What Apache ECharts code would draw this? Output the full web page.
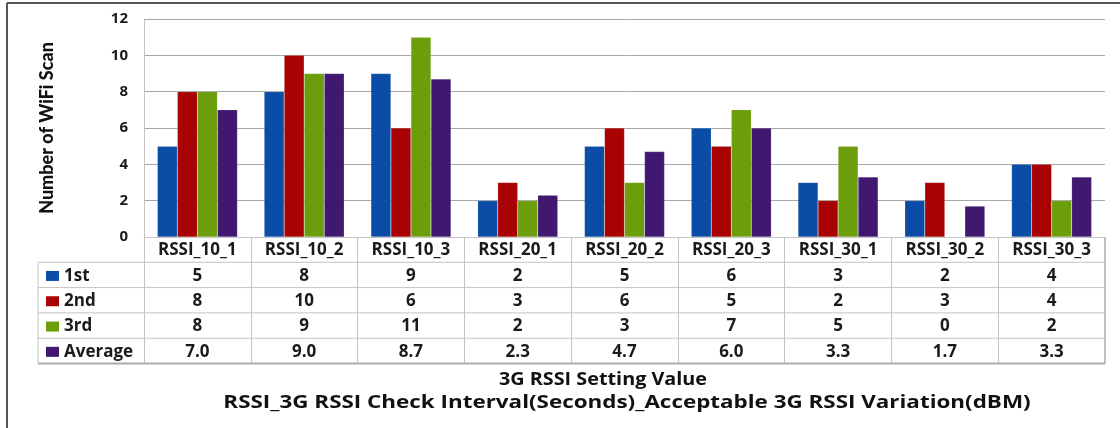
<!DOCTYPE html>
<html><head><meta charset="utf-8">
<script src="https://cdn.jsdelivr.net/npm/echarts@6/dist/echarts.min.js"></script>
<style>html,body{margin:0;padding:0;background:#fff}#c{width:1120px;height:428px}</style>
</head><body><div id="c"></div>
<script>
const categories = ['RSSI_10_1','RSSI_10_2','RSSI_10_3','RSSI_20_1','RSSI_20_2','RSSI_20_3','RSSI_30_1','RSSI_30_2','RSSI_30_3'];
const seriesNames = ['1st','2nd','3rd','Average'];
const first = [5,8,9,2,5,6,3,2,4];
const second = [8,10,6,3,6,5,2,3,4];
const third = [8,9,11,2,3,7,5,0,2];
const average = [7.0,9.0,8.7,2.3,4.7,6.0,3.3,1.7,3.3];
const yTicks = [0,2,4,6,8,10,12];
const yTitle = 'Number of WiFi Scan';
const xTitle1 = '3G RSSI Setting Value';
const xTitle2 = 'RSSI_3G RSSI Check Interval(Seconds)_Acceptable 3G RSSI Variation(dBM)';

const colors = ['#0B4DA6','#A80202','#6C9E0B','#40186F'];
const allData = [first, second, third, average];
const fmt = [v=>String(v), v=>String(v), v=>String(v), v=>v.toFixed(1)];
const FONT = 'Open Sans';
const gridL = 144, gridR = 1105, gridT = 19, gridB = 237;
const rowH = 25.3;
const lineC = '#c4c4c4';

const xAxes = [{
  type:'category', data:categories, gridIndex:0, position:'bottom',
  axisLine:{lineStyle:{color:lineC}},
  axisTick:{show:true, length:126, lineStyle:{color:lineC}},
  axisLabel:{fontFamily:FONT, fontWeight:'bold', fontSize:17, color:'#1a1a1a', margin:5}
}];
allData.forEach((arr,k)=>{
  xAxes.push({
    type:'category', data:arr.map(fmt[k]), gridIndex:0, position:'bottom', offset:rowH*(k+1),
    axisLine:{show:false}, axisTick:{show:false},
    axisLabel:{fontFamily:FONT, fontWeight:'bold', fontSize:17, color:'#1a1a1a', margin:5}
  });
});

const graphics = [];
graphics.push({type:'line', shape:{x1:7,y1:3,x2:1120,y2:3}, style:{stroke:'#555',lineWidth:2}});
graphics.push({type:'line', shape:{x1:7,y1:3,x2:7,y2:428}, style:{stroke:'#555',lineWidth:2}});
for(let k=1;k<=5;k++){
  const y = gridB + rowH*k;
  graphics.push({type:'line', shape:{x1:38,y1:y,x2:gridR,y2:y}, style:{stroke: k===5?'#aaa':lineC, lineWidth:k===5?2:1}});
}
graphics.push({type:'line', shape:{x1:38,y1:gridB+rowH,x2:38,y2:gridB+rowH*5}, style:{stroke:lineC,lineWidth:1}});
graphics.push({type:'line', shape:{x1:gridR,y1:gridB,x2:gridR,y2:gridB+rowH*5}, style:{stroke:'#aaa',lineWidth:1.5}});
seriesNames.forEach((n,k)=>{
  const cy = gridB + rowH*(k+1) + rowH/2 + 1;
  graphics.push({type:'rect', shape:{x:46,y:cy-5,width:13,height:10}, style:{fill:colors[k]}});
  graphics.push({type:'text', x:64, y:cy, style:{text:n, font:'bold 17px '+FONT, fill:'#1a1a1a', verticalAlign:'middle', align:'left'}});
});
graphics.push({type:'text', x:603, y:380, scaleX:1.1, style:{text:xTitle1, font:'bold 18px '+FONT, fill:'#111', align:'center', verticalAlign:'middle'}});
graphics.push({type:'text', x:627, y:403, scaleX:1.245, style:{text:xTitle2, font:'bold 18px '+FONT, fill:'#111', align:'center', verticalAlign:'middle'}});

const option = {
  backgroundColor:'#fff',
  animation:false,
  color:colors,
  grid:{left:gridL, right:1120-gridR, top:gridT, bottom:428-gridB},
  xAxis:xAxes,
  yAxis:{type:'value', min:yTicks[0], max:yTicks[yTicks.length-1], interval:2,
    name:yTitle, nameLocation:'middle', nameRotate:90, nameGap:88,
    nameTextStyle:{fontFamily:'Lato', fontWeight:900, fontSize:18, color:'#111'},
    axisLine:{show:true, lineStyle:{color:lineC}},
    axisTick:{show:false},
    axisLabel:{fontFamily:FONT, fontWeight:'bold', fontSize:15, color:'#1a1a1a', margin:16},
    splitLine:{lineStyle:{color:'#a8a8a8'}}
  },
  series: seriesNames.map((n,k)=>({
    name:n, type:'bar', data:allData[k], xAxisIndex:0, barGap:'0%', barCategoryGap:'25%',
    itemStyle:{color:colors[k], borderColor:'rgba(255,255,255,0.25)', borderWidth:0.5}
  })),
  graphic:graphics
};
const chart = echarts.init(document.getElementById('c'));
chart.setOption(option);
</script></body></html>
